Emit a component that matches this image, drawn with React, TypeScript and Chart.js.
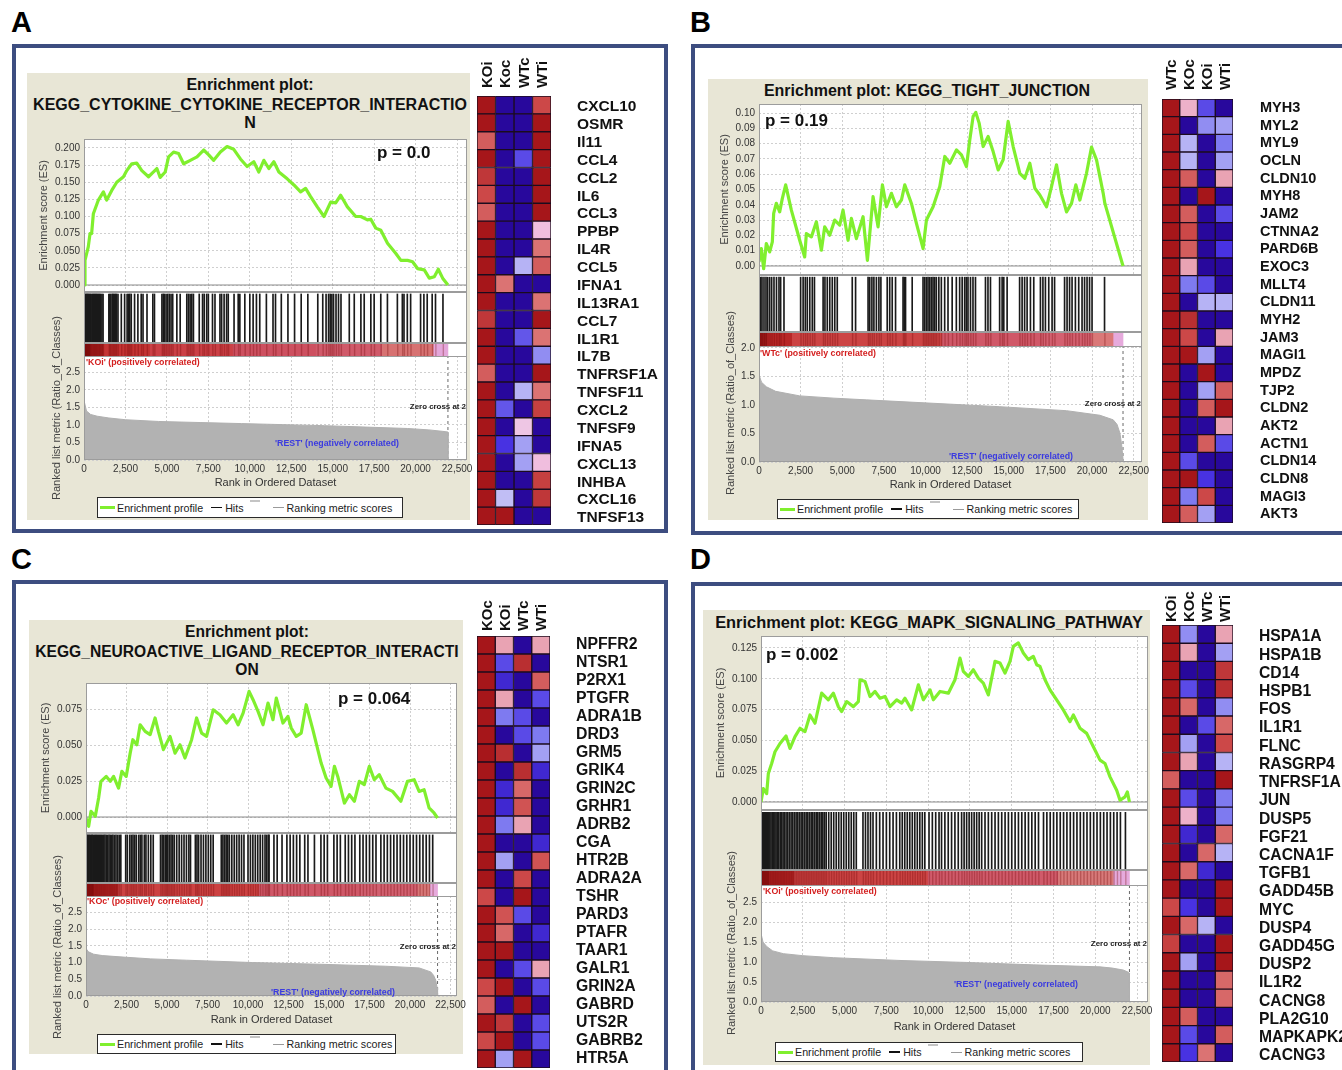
import React, { useEffect, useRef } from "react";
import { Chart, registerables } from "chart.js";

Chart.register(...registerables);
const FONT = "'Liberation Sans', Arial, Helvetica, sans-serif";
Chart.defaults.font.family = FONT;

// ===================== DATA =====================
const rankTicks = [0, 2500, 5000, 7500, 10000, 12500, 15000, 17500, 20000, 22500];

// ---- Panel A : KEGG_CYTOKINE_CYTOKINE_RECEPTOR_INTERACTION ----
const esTicksA = [0, 0.025, 0.05, 0.075, 0.1, 0.125, 0.15, 0.175, 0.2];
const metricTicksA = [0, 0.5, 1, 1.5, 2, 2.5];
const esRankA = [0,60,260,363,460,564,867,1170,1370,1673,1976,2380,2580,2883,3185,3488,3891,4193,4395,4596,4899,5100,5403,5705,6008,6411,6814,7217,7520,7822,8225,8628,9032,9435,9838,10241,10544,10846,11149,11451,11754,12257,12660,13063,13366,13668,14071,14474,14878,15180,15482,15886,16390,16692,17095,17297,17600,17902,18305,18809,19111,19515,19817,20119,20522,20825,21127,21369,21631,21950];
const esValA = [0,0.036,0.056,0.075,0.075,0.104,0.124,0.136,0.124,0.138,0.150,0.158,0.167,0.177,0.178,0.167,0.158,0.165,0.170,0.157,0.165,0.187,0.194,0.192,0.177,0.182,0.187,0.197,0.190,0.182,0.194,0.202,0.198,0.184,0.173,0.180,0.165,0.182,0.170,0.180,0.165,0.155,0.146,0.136,0.141,0.129,0.114,0.100,0.121,0.120,0.131,0.114,0.100,0.100,0.095,0.096,0.083,0.080,0.061,0.046,0.036,0.036,0.034,0.024,0.022,0.010,0.012,0.023,0.010,0];
const hitsA = [10,60,110,160,210,260,320,380,430,500,560,620,680,740,800,870,930,1000,1080,1150,1500,1560,1620,1700,1760,1830,1900,1960,2050,2250,2450,2600,2680,2760,2850,3050,3250,3450,3560,3800,4150,4250,4700,4780,4850,4950,5050,5150,5250,5350,5600,5800,6200,6300,6400,6500,6600,6950,7150,7250,7400,7500,7750,7900,8200,8300,8450,8600,8700,9050,9300,9400,9700,10000,10200,10400,10600,11000,11400,11550,11900,12300,12700,13100,13500,14100,14400,14600,14750,14850,14950,15050,15200,15350,15500,16000,16300,16700,16900,17300,17500,17900,18300,18900,19200,19300,19500,19700,20300,20500,20700,21000,21200,21650];
const metricRankA = [0,150,400,800,1500,2500,4500,7000,9500,12000,14500,17000,19500,20800,21600,21950,21952];
const metricValA = [1.7,1.4,1.3,1.25,1.2,1.15,1.1,1.07,1.04,1.01,0.98,0.94,0.9,0.86,0.82,0.8,0];
const barStopsA = [0,400,1200,4000,9000,14000,18000,21100,21950];
const barColorsA = ["#8c1616","#b02424","#c43434","#cb4046","#cd5060","#d05a6a","#d77272","#e4a6da"];
const genesA = ["CXCL10","OSMR","Il11","CCL4","CCL2","IL6","CCL3","PPBP","IL4R","CCL5","IFNA1","IL13RA1","CCL7","IL1R1","IL7B","TNFRSF1A","TNFSF11","CXCL2","TNFSF9","IFNA5","CXCL13","INHBA","CXCL16","TNFSF13"];
const samplesA = ["KOi","Koc","WTc","WTi"];
const heatA = [
  [1,-1,-1,0.7],[1,-1,-1,1],[0.6,-1,-1,1],[1,-1,-0.5,1],[0.8,-1,-1,1],[0.7,-1,-1,1],
  [0.6,-1,-1,1],[1,-1,-1,0.2],[1,-1,-1,0.5],[1,-1,-0.15,0.6],[1,0.5,-1,-1],[1,-1,-1,0.5],
  [0.8,-1,-1,1],[1,-1,-0.45,0.5],[1,-1,-1,-0.25],[0.6,-1,-1,1],[1,-1,-0.15,0.5],[1,-0.45,-1,0.75],
  [1,-1,0.15,-1],[1,-0.6,-0.2,-1],[1,-1,-0.2,0.2],[1,-1,-1,0.75],[1,-0.12,-1,0.8],[1,1,-1,-1],
];

// ---- Panel B : KEGG_TIGHT_JUNCTION ----
const esTicksB = [0, 0.01, 0.02, 0.03, 0.04, 0.05, 0.06, 0.07, 0.08, 0.09, 0.1];
const metricTicksB = [0, 0.5, 1, 1.5, 2];
const esRankB = [0,140,280,440,641,801,881,1042,1242,1402,1602,1943,2444,2744,2844,3145,3445,3746,3946,4246,4547,4847,5048,5348,5548,5849,6249,6510,6850,7150,7411,7651,7952,8252,8553,8753,9153,9454,9854,10055,10455,10856,11157,11457,11858,12158,12458,12659,12859,13019,13220,13460,13761,14061,14362,14662,14962,15263,15664,15964,16264,16565,16865,17266,17566,17866,18166,18467,18767,19027,19268,19668,19969,20269,20670,20770,21860];
const esValB = [0.0026,0.0114,-0.0018,0.0147,0.0092,0.0158,0.0344,0.041,0.0354,0.0442,0.053,0.0365,0.0168,0.0059,0.0212,0.019,0.0289,0.0103,0.0256,0.0201,0.030,0.0267,0.0365,0.0168,0.0311,0.0179,0.0322,0.0037,0.0453,0.0256,0.053,0.0387,0.0475,0.0387,0.0431,0.053,0.0409,0.0278,0.0114,0.030,0.0387,0.0519,0.0716,0.0672,0.0759,0.0726,0.065,0.0825,0.0978,0.1004,0.0934,0.0781,0.0847,0.0748,0.0628,0.0694,0.0945,0.0781,0.0606,0.0573,0.0672,0.0508,0.0464,0.0387,0.0519,0.0661,0.0475,0.0354,0.0409,0.053,0.0431,0.0606,0.0777,0.0694,0.0475,0.0409,0];
const hitsB = [20,100,180,300,420,520,640,760,900,1050,1200,1300,1500,2500,2650,2780,2900,3050,3200,3330,3850,3960,4100,4250,4400,4550,4700,5600,5800,6550,6650,6780,6900,7050,7200,7320,7700,7850,8000,8200,8650,8720,8800,9200,9850,9950,10050,10150,10250,10350,10450,10550,10650,10800,10950,11150,11350,11600,11850,12050,12200,12350,12450,12550,12700,12850,13000,13600,13750,13900,14450,14600,14700,14900,15650,15800,15950,16100,16300,16500,16900,17050,17200,17400,17600,17750,18350,18500,18650,18800,19000,19200,19400,19550,19700,19850,20000,20750];
const metricRankB = [0,150,440,1000,2444,4500,6450,10455,14460,18467,20470,21270,21500,21670,21780,21860,21862];
const metricValB = [1.53,1.4,1.32,1.24,1.16,1.12,1.09,1.03,0.97,0.9,0.82,0.74,0.66,0.51,0.3,0.05,0];
const barStopsB = [0,500,2000,11000,17000,20000,21300,21860];
const barColorsB = ["#9a1a1a","#b82828","#cc4444","#d05868","#d46070","#da7878","#e6aadc"];
const genesB = ["MYH3","MYL2","MYL9","OCLN","CLDN10","MYH8","JAM2","CTNNA2","PARD6B","EXOC3","MLLT4","CLDN11","MYH2","JAM3","MAGI1","MPDZ","TJP2","CLDN2","AKT2","ACTN1","CLDN14","CLDN8","MAGI3","AKT3"];
const samplesB = ["WTc","KOc","KOi","WTi"];
const heatB = [
  [1,0.25,-0.5,-1],[1,-1,-0.25,-0.2],[1,-0.15,-1,-0.3],[1,-0.15,-1,-0.2],[1,0.6,-1,0.3],[1,-1,1,-1],
  [1,0.6,-1,-0.5],[1,0.7,-1,-1],[1,0.6,-1,-0.6],[1,0.3,-1,-1],[1,-0.3,-0.5,-1],[1,-1,-0.15,-0.15],
  [1,0.85,-1,-1],[1,0.7,-1,0.3],[1,1,-0.2,-1],[1,-1,1,-1],[1,-1,-0.2,0.6],[1,-1,0.6,1],
  [1,-1,-1,0.3],[1,-1,0.6,-0.5],[1,-0.5,-1,-1],[1,1,-0.6,-1],[1,-0.3,0.7,-1],[1,0.6,-0.2,-1],
];

// ---- Panel C : KEGG_NEUROACTIVE_LIGAND_RECEPTOR_INTERACTION ----
const esTicksC = [0, 0.025, 0.05, 0.075];
const metricTicksC = [0, 0.5, 1, 1.5, 2, 2.5];
const esRankC = [0,164,308,574,779,923,1250,1497,1702,2009,2214,2481,2727,2891,3137,3342,3650,3957,4264,4469,4777,5187,5494,5802,6109,6519,6827,7134,7442,7852,8262,8672,9082,9389,9697,10066,10312,10619,10927,11234,11542,11747,12157,12464,12669,12977,13284,13592,14002,14514,14822,15129,15334,15539,15949,16257,16564,16872,17179,17487,17794,18102,18512,18922,19434,19844,20254,20562,20869,21177,21484,21700];
const esValC = [-0.0007,-0.0065,0.0039,0.0005,0.0132,0.0248,0.0282,0.0248,0.0282,0.0201,0.0317,0.0282,0.0444,0.0537,0.0502,0.0641,0.0595,0.0572,0.0688,0.0595,0.0468,0.0560,0.0444,0.0502,0.041,0.0537,0.0688,0.0583,0.056,0.0745,0.0711,0.0653,0.0711,0.0641,0.0722,0.0873,0.0815,0.0734,0.0641,0.0792,0.0676,0.0826,0.0653,0.0699,0.0618,0.056,0.0583,0.078,0.0607,0.0375,0.0271,0.0213,0.0352,0.0282,0.0097,0.0155,0.0109,0.0248,0.0225,0.0352,0.0259,0.0294,0.0201,0.0178,0.0109,0.0248,0.0259,0.0178,0.019,0.0063,0.0028,-0.0007];
const hitsC = [0,40,90,150,200,260,330,380,450,520,580,640,700,770,830,900,960,1030,1100,1170,1250,1330,1420,1500,1580,1660,1750,1850,1950,2050,2150,2450,2550,2700,2800,2900,3000,3100,3250,3350,3450,3600,3700,3850,4000,4150,4600,4700,4800,4900,4980,5050,5150,5250,5350,5450,5600,5750,5900,6050,6200,6350,6450,6750,6850,6950,7100,7250,7400,7550,7700,7850,8350,8450,8550,8650,8750,8850,9000,9150,9300,9450,9600,9750,10000,10150,10300,10450,10600,10750,10900,11050,11150,11250,11300,11600,11800,12100,12400,12600,12800,13000,13200,13500,13700,14100,14500,14700,14900,15300,15500,15700,16000,16200,16400,16600,16900,17100,17300,17500,17700,17900,18200,18400,18600,18800,19000,19200,19400,19600,19800,20000,20200,20400,20600,20800,21000,21200,21400];
const metricRankC = [0,150,470,1000,2100,4000,6200,10300,14400,18500,20560,21280,21450,21590,21670,21700,21702];
const metricValC = [1.42,1.32,1.25,1.21,1.17,1.11,1.07,1.0,0.95,0.89,0.84,0.72,0.62,0.47,0.25,0.05,0];
const barStopsC = [0,500,2000,10700,17000,20500,21250,21700];
const barColorsC = ["#961818","#b42626","#cc4242","#cf5868","#d26070","#d87878","#e6aadc"];
const genesC = ["NPFFR2","NTSR1","P2RX1","PTGFR","ADRA1B","DRD3","GRM5","GRIK4","GRIN2C","GRHR1","ADRB2","CGA","HTR2B","ADRA2A","TSHR","PARD3","PTAFR","TAAR1","GALR1","GRIN2A","GABRD","UTS2R","GABRB2","HTR5A"];
const samplesC = ["KOc","KOi","WTc","WTi"];
const heatC = [
  [1,0.3,-1,0.3],[1,-0.5,0.85,-1],[1,-0.7,-1,0.6],[1,0.3,-1,-0.5],[1,-0.3,-0.5,-1],[1,-1,-0.5,-0.3],
  [1,0.85,-1,-0.2],[1,-1,0.85,-0.7],[1,-0.7,0.55,-1],[1,-0.7,0.65,-1],[1,-0.3,0.3,-1],[1,-1,-1,-0.7],
  [1,-0.2,-1,0.65],[1,-1,0.7,-1],[0.7,-1,1,-1],[1,0.65,-0.5,-1],[1,0.55,-1,-0.7],[1,1,-1,-1],
  [1,-1,-0.5,0.3],[0.7,1,-1,-0.5],[0.6,-1,1,-1],[1,0.8,-1,-0.5],[0.7,1,-1,-0.5],[1,-0.2,1,-1],
];

// ---- Panel D : KEGG_MAPK_SIGNALING_PATHWAY ----
const esTicksD = [0, 0.025, 0.05, 0.075, 0.1, 0.125];
const metricTicksD = [0, 0.5, 1, 1.5, 2, 2.5];
const esRankD = [0,140,339,439,638,837,1137,1496,1735,2034,2333,2632,2931,3230,3629,4028,4327,4626,4826,5125,5524,5823,5922,6221,6520,6820,7119,7418,7717,8116,8415,8614,9013,9412,9711,10110,10309,10708,11206,11605,11904,12103,12402,12702,13001,13300,13599,13998,14297,14596,14895,15095,15394,15693,15992,16291,16490,16690,16989,17288,17687,18086,18485,18685,19083,19482,19881,20280,20579,20878,21276,21476,21775,21914,22040];
const esValD = [0,0.0109,0.0068,0.0231,0.0312,0.0408,0.0475,0.0535,0.0435,0.0530,0.0598,0.0571,0.0706,0.0639,0.0883,0.0829,0.0883,0.0774,0.0734,0.0815,0.0774,0.0815,0.0992,0.0978,0.0856,0.0897,0.0842,0.0856,0.0774,0.0829,0.0802,0.0842,0.0747,0.0951,0.0829,0.0910,0.0829,0.0897,0.0883,0.0992,0.1168,0.1060,0.1019,0.1073,0.1005,0.0965,0.0869,0.1141,0.1128,0.1046,0.1141,0.1263,0.1291,0.1209,0.1155,0.1182,0.1114,0.1100,0.0992,0.0910,0.0829,0.0747,0.0652,0.0706,0.0598,0.0557,0.0448,0.0340,0.0312,0.0204,0.0095,0.0014,0.0041,0.0082,0];
const hitsD = [0,50,100,160,220,280,340,400,460,530,600,680,750,830,900,980,1060,1150,1230,1320,1400,1500,1600,1700,1800,1900,2000,2100,2200,2300,2400,2500,2600,2700,2800,2900,3000,3100,3200,3300,3400,3500,3600,3700,3800,3900,4050,4200,4350,4500,4650,4800,4950,5100,5250,5400,5550,5700,6100,6250,6400,6550,6700,6900,7100,7300,7500,7700,7900,8100,8300,8450,8600,8750,8900,9050,9200,9350,9500,9650,9800,10050,10250,10450,10650,10800,11000,11200,11400,11600,11800,12000,12150,12300,12450,12600,12750,12900,13050,13200,13400,13600,13800,14000,14200,14400,14600,14800,15000,15200,15400,15600,15800,16000,16200,16400,16600,16900,17100,17300,17500,17700,17900,18100,18300,18500,18700,18900,19100,19300,19500,19700,19900,20100,20300,20500,20700,20900,21100,21300,21500,21800];
const metricRankD = [0,120,340,700,1336,2500,4327,8315,12303,16290,20280,21000,21675,22000,22040,22042];
const metricValD = [1.72,1.5,1.39,1.28,1.21,1.16,1.11,1.04,0.99,0.93,0.88,0.85,0.8,0.74,0.72,0];
const barStopsD = [0,500,2000,10000,17800,21100,22040];
const barColorsD = ["#961818","#b42626","#cc4444","#d05a6a","#d87a7a","#e6aadc"];
const genesD = ["HSPA1A","HSPA1B","CD14","HSPB1","FOS","IL1R1","FLNC","RASGRP4","TNFRSF1A","JUN","DUSP5","FGF21","CACNA1F","TGFB1","GADD45B","MYC","DUSP4","GADD45G","DUSP2","IL1R2","CACNG8","PLA2G10","MAPKAPK2","CACNG3"];
const samplesD = ["KOi","KOc","WTc","WTi"];
const heatD = [
  [1,-0.25,-1,0.3],[1,0.3,-1,-0.2],[1,-1,-1,0.8],[1,-0.5,-1,0.85],[1,0.55,-1,-0.25],[1,-1,-0.5,0.55],
  [1,-0.2,-1,0.7],[1,0.3,-1,-0.15],[0.6,-1,-1,1],[1,-0.5,-1,-0.3],[1,0.25,-1,-0.3],[1,-0.7,-1,0.55],
  [1,-1,0.55,-0.15],[1,0.55,-0.7,-1],[1,-1,-1,1],[0.7,-0.6,-1,1],[1,0.55,-0.15,-1],[0.75,-1,-1,1],
  [1,-0.2,-1,1],[1,-1,-1,0.55],[1,-1,-1,0.55],[1,0.6,-1,-1],[1,-0.5,-1,0.6],[1,-0.6,0.5,-1],
];

// ===================== STYLE HELPERS =====================
const GREEN = "#80ef2e";
const GRID = "#cfcfcf";
const HEAT_STOPS: [number, number[]][] = [
  [-1, [40, 8, 156]],
  [-0.6, [72, 50, 226]],
  [-0.3, [126, 122, 240]],
  [-0.1, [200, 198, 246]],
  [0, [232, 222, 244]],
  [0.2, [240, 190, 222]],
  [0.4, [226, 136, 136]],
  [0.7, [204, 72, 72]],
  [1, [166, 22, 26]],
];
function heatColor(v: number): string {
  const s = HEAT_STOPS;
  const f = (c: number[]) => `rgb(${c[0]},${c[1]},${c[2]})`;
  if (v <= s[0][0]) return f(s[0][1]);
  for (let i = 1; i < s.length; i++) {
    if (v <= s[i][0]) {
      const t = (v - s[i - 1][0]) / (s[i][0] - s[i - 1][0]);
      const a = s[i - 1][1], b = s[i][1];
      return f([0, 1, 2].map((k) => Math.round(a[k] + (b[k] - a[k]) * t)));
    }
  }
  return f(s[s.length - 1][1]);
}

const framePlugin = {
  id: "frame",
  beforeDraw(chart: any, _a: any, opts: any) {
    if (!opts || !opts.fill) return;
    const { ctx, chartArea: a } = chart;
    ctx.save();
    ctx.fillStyle = opts.fill;
    ctx.fillRect(a.left, a.top, a.right - a.left, a.bottom - a.top);
    ctx.restore();
  },
  afterDraw(chart: any, _a: any, opts: any) {
    if (!opts || !opts.stroke) return;
    const { ctx, chartArea: a } = chart;
    ctx.save();
    ctx.strokeStyle = opts.stroke;
    ctx.lineWidth = 1;
    ctx.strokeRect(Math.round(a.left) + 0.5, Math.round(a.top) + 0.5, Math.round(a.right - a.left) - 1, Math.round(a.bottom - a.top) - 1);
    ctx.restore();
  },
};

const baseOpts = { responsive: false, animation: false, events: [] };
const setTicks = (vals: number[]) => (sc: any) => {
  sc.ticks = vals.filter((v) => v >= sc.min - 1e-9 && v <= sc.max + 1e-9).map((v) => ({ value: v }));
};

function CanvasChart({ x, y, w, h, make }: { x: number; y: number; w: number; h: number; make: () => any }) {
  const ref = useRef<HTMLCanvasElement | null>(null);
  useEffect(() => {
    const c = new Chart(ref.current as HTMLCanvasElement, make());
    return () => c.destroy();
  }, []);
  return <canvas ref={ref} width={w} height={h} style={{ position: "absolute", left: x, top: y, width: w, height: h }} />;
}

function T({ x, y, size, bold, color, align, children, ls }: any) {
  const st: any = {
    position: "absolute", top: y - size / 2, lineHeight: size + "px", fontSize: size,
    fontWeight: bold ? "bold" : "normal", color: color || "#111", whiteSpace: "nowrap", fontFamily: FONT, letterSpacing: ls || 0,
  };
  if (align === "center") { st.left = x; st.transform = "translateX(-50%)"; }
  else if (align === "right") { st.right = 1342 - x; }
  else st.left = x;
  return <div style={st}>{children}</div>;
}

// vertical text reading bottom-to-top, centred at (cx, cy)
function VT({ cx, cy, size, bold, color, children, len }: any) {
  const L = len || 260;
  return (
    <div style={{ position: "absolute", left: cx - size / 2, top: cy - L / 2, width: size, height: L, writingMode: "vertical-rl", transform: "rotate(180deg)", textAlign: "center", lineHeight: size + "px", fontSize: size, fontWeight: bold ? "bold" : "normal", color: color || "#333", whiteSpace: "nowrap", fontFamily: FONT }}>
      {children}
    </div>
  );
}
// vertical text whose start (bottom) sits at y=bottom, centred on cx
function VTB({ cx, bottom, size, children }: any) {
  const L = 60;
  return (
    <div style={{ position: "absolute", left: cx - size / 2, top: bottom - L, width: size, height: L, writingMode: "vertical-rl", transform: "rotate(180deg)", lineHeight: size + "px", fontSize: size, fontWeight: "bold", color: "#111", whiteSpace: "nowrap", fontFamily: FONT }}>
      {children}
    </div>
  );
}

// ===================== PANEL SPECS =====================
type Spec = any;
const PAD = 10;
const PR = 14;

const specs: Spec[] = [
  {
    key: "A", beige: [27, 73, 443, 447],
    title: ["Enrichment plot:", "KEGG_CYTOKINE_CYTOKINE_RECEPTOR_INTERACTIO", "N"], titleYs: [85, 105, 123], titleCx: 250, titleSize: 16,
    p: "p = 0.0", pX: 377, pY: 152,
    plotL: 84, plotR: 467, esTop: 139, esBot: 292, esMin: -0.0102, esMax: 0.2131, esTicks: esTicksA, esDec: 3, esTitleCx: 44,
    hitsBot: 343, barBot: 356, rkBot: 460, rkMax: 2.97, mTicks: metricTicksA, rkTitleCx: 56, rkTitleCy: 408, xAxisH: 34, xMax: 23100, zc: 21950,
    esX: esRankA, esY: esValA, hits: hitsA, mX: metricRankA, mY: metricValA, barStops: barStopsA, barColors: barColorsA,
    posText: "'KOi' (positively correlated)", posX: 86, posY: 362, zeroY: 407, restX: 275, restY: 443,
    legend: [97, 497, 306, 21],
  },
  {
    key: "B", beige: [708, 79, 440, 441],
    title: ["Enrichment plot: KEGG_TIGHT_JUNCTION"], titleYs: [91], titleCx: 927, titleSize: 16,
    p: "p = 0.19", pX: 765, pY: 120,
    plotL: 759, plotR: 1142, esTop: 104, esBot: 275, esMin: -0.0059, esMax: 0.1059, esTicks: esTicksB, esDec: 2, esTitleCx: 725,
    hitsBot: 332, barBot: 346, rkBot: 462, rkMax: 2.035, mTicks: metricTicksB, rkTitleCx: 730, rkTitleCy: 403, xAxisH: 34, xMax: 23000, zc: 21860,
    esX: esRankB, esY: esValB, hits: hitsB, mX: metricRankB, mY: metricValB, barStops: barStopsB, barColors: barColorsB,
    posText: "'WTc' (positively correlated)", posX: 760, posY: 353, zeroY: 404, restX: 949, restY: 456,
    legend: [777, 499, 302, 20],
  },
  {
    key: "C", beige: [29, 620, 434, 434],
    title: ["Enrichment plot:", "KEGG_NEUROACTIVE_LIGAND_RECEPTOR_INTERACTI", "ON"], titleYs: [632, 652, 670], titleCx: 247, titleSize: 15.6,
    p: "p = 0.064", pX: 338, pY: 698,
    plotL: 86, plotR: 457, esTop: 683, esBot: 833, esMin: -0.0111, esMax: 0.0931, esTicks: esTicksC, esDec: 3, esTitleCx: 46,
    hitsBot: 883, barBot: 896, rkBot: 996, rkMax: 2.99, mTicks: metricTicksC, rkTitleCx: 57, rkTitleCy: 947, xAxisH: 35, xMax: 22900, zc: 21700,
    esX: esRankC, esY: esValC, hits: hitsC, mX: metricRankC, mY: metricValC, barStops: barStopsC, barColors: barColorsC,
    posText: "'KOc' (positively correlated)", posX: 87, posY: 901, zeroY: 947, restX: 271, restY: 992,
    legend: [97, 1034, 299, 20],
  },
  {
    key: "D", beige: [703, 610, 447, 455],
    title: ["Enrichment plot: KEGG_MAPK_SIGNALING_PATHWAY"], titleYs: [622], titleCx: 929, titleSize: 16.4,
    p: "p = 0.002", pX: 766, pY: 654,
    plotL: 761, plotR: 1148, esTop: 636, esBot: 810, esMin: -0.0065, esMax: 0.1347, esTicks: esTicksD, esDec: 3, esTitleCx: 721,
    hitsBot: 870, barBot: 885, rkBot: 1002, rkMax: 2.93, mTicks: metricTicksD, rkTitleCx: 731, rkTitleCy: 943, xAxisH: 36, xMax: 23150, zc: 22040,
    esX: esRankD, esY: esValD, hits: hitsD, mX: metricRankD, mY: metricValD, barStops: barStopsD, barColors: barColorsD,
    posText: "'KOi' (positively correlated)", posX: 763, posY: 891, zeroY: 944, restX: 954, restY: 984,
    legend: [775, 1042, 308, 20],
  },
];

const heatSpecs: any[] = [
  { key: "hA", genes: genesA, samples: samplesA, vals: heatA, cellsL: 477, cellsR: 551, cellsT: 96, cellsB: 525, gap: 18, geneSize: 15.5, sampleSize: 15, sampleBottom: 88, canvasR: 664, labelOffset: 2 },
  { key: "hB", genes: genesB, samples: samplesB, vals: heatB, cellsL: 1162, cellsR: 1233, cellsT: 99, cellsB: 523, gap: 19, geneSize: 14.5, sampleSize: 15, sampleBottom: 90, canvasR: 1342, labelOffset: 0 },
  { key: "hC", genes: genesC, samples: samplesC, vals: heatC, cellsL: 477, cellsR: 550, cellsT: 636, cellsB: 1068, gap: 18, geneSize: 15.8, sampleSize: 15, sampleBottom: 631, canvasR: 664, labelOffset: 0 },
  { key: "hD", genes: genesD, samples: samplesD, vals: heatD, cellsL: 1162, cellsR: 1233, cellsT: 625, cellsB: 1062, gap: 18, geneSize: 15.7, sampleSize: 15, sampleBottom: 622, canvasR: 1342, labelOffset: 3 },
];

// ===================== CHART CONFIGS =====================
function esConfig(s: Spec, axisW: number) {
  return {
    type: "line",
    data: {
      datasets: [
        { data: s.esX.map((x: number, i: number) => ({ x, y: s.esY[i] })), borderColor: GREEN, borderWidth: 3.2, pointRadius: 0, tension: 0, borderJoinStyle: "round" },
        { data: [{ x: 0, y: 0 }, { x: s.xMax, y: 0 }], borderColor: "#8a8a8a", borderWidth: 1, pointRadius: 0 },
      ],
    },
    options: {
      ...baseOpts,
      layout: { padding: { top: PAD, right: PR, bottom: PAD, left: 0 } },
      plugins: { legend: { display: false }, tooltip: { enabled: false }, frame: { fill: "#fff", stroke: "#9c9c9c" } },
      scales: {
        x: {
          type: "linear", min: 0, max: s.xMax,
          afterBuildTicks: setTicks(rankTicks),
          ticks: { display: false },
          grid: { color: GRID, drawTicks: false },
          border: { display: false, dash: [2, 2] },
          afterFit: (sc: any) => { sc.height = 0; },
        },
        y: {
          min: s.esMin, max: s.esMax,
          afterBuildTicks: setTicks(s.esTicks),
          ticks: { font: { size: 10 }, color: "#333", padding: 4, callback: (v: any) => Number(v).toFixed(s.esDec) },
          grid: { color: GRID, drawTicks: false },
          border: { display: false, dash: [2, 2] },
          title: { display: true, text: "Enrichment score (ES)", font: { size: 11 }, color: "#444", padding: { top: 4, bottom: 4 } },
          afterFit: (sc: any) => { sc.width = axisW; },
        },
      },
    },
    plugins: [framePlugin],
  };
}

function hitsConfig(s: Spec) {
  return {
    type: "bar",
    data: { datasets: [{ data: s.hits.map((h: number) => ({ x: h, y: 1 })), backgroundColor: "#1a1a1a", barThickness: 1, borderWidth: 0 }] },
    options: {
      ...baseOpts,
      layout: { padding: 0 },
      plugins: { legend: { display: false }, tooltip: { enabled: false }, frame: { fill: "#fff", stroke: "#9c9c9c" } },
      scales: {
        x: { type: "linear", min: 0, max: s.xMax, offset: false, display: false },
        y: { min: 0, max: 1.04, display: false },
      },
    },
    plugins: [framePlugin],
  };
}

function barConfig(s: Spec) {
  const segs = s.barColors.map((_c: string, i: number) => ({ x: [s.barStops[i], s.barStops[i + 1]], y: "r" }));
  return {
    type: "bar",
    data: {
      labels: ["r"],
      datasets: [
        { data: s.hits.map((h: number) => ({ x: [h, h + 45], y: "r" })), backgroundColor: "rgba(110,0,0,0.3)", barPercentage: 1, categoryPercentage: 1, grouped: false, borderWidth: 0 },
        { data: segs, backgroundColor: s.barColors, barPercentage: 1, categoryPercentage: 1, grouped: false, borderWidth: 0 },
      ],
    },
    options: {
      ...baseOpts,
      indexAxis: "y",
      layout: { padding: 0 },
      plugins: { legend: { display: false }, tooltip: { enabled: false }, frame: { fill: "#fff", stroke: "#9c9c9c" } },
      scales: {
        x: { type: "linear", min: 0, max: s.xMax, display: false },
        y: { type: "category", display: false },
      },
    },
    plugins: [framePlugin],
  };
}

function rankConfig(s: Spec, axisW: number) {
  return {
    type: "line",
    data: {
      datasets: [
        { data: s.mX.map((x: number, i: number) => ({ x, y: s.mY[i] })), borderColor: "#b0b0b0", backgroundColor: "#b2b2b2", fill: "origin", borderWidth: 1, pointRadius: 0, tension: 0 },
        { data: [{ x: s.zc, y: 0 }, { x: s.zc, y: s.rkMax }], borderColor: "#6a6a6a", borderDash: [3, 3], borderWidth: 1, pointRadius: 0 },
      ],
    },
    options: {
      ...baseOpts,
      layout: { padding: { top: PAD, right: PR, bottom: 0, left: 0 } },
      plugins: { legend: { display: false }, tooltip: { enabled: false }, frame: { fill: "#fff", stroke: "#9c9c9c" } },
      scales: {
        x: {
          type: "linear", min: 0, max: s.xMax,
          afterBuildTicks: setTicks(rankTicks),
          ticks: { font: { size: 10 }, color: "#333", padding: 3, maxRotation: 0, autoSkip: false, callback: (v: any) => Number(v).toLocaleString("en-US") },
          grid: { color: GRID, drawTicks: false },
          border: { display: false, dash: [2, 2] },
          title: { display: true, text: "Rank in Ordered Dataset", font: { size: 11 }, color: "#333", padding: { top: 4, bottom: 4 } },
          afterFit: (sc: any) => { sc.height = s.xAxisH; },
        },
        y: {
          min: 0, max: s.rkMax,
          afterBuildTicks: setTicks(s.mTicks),
          ticks: { font: { size: 10 }, color: "#333", padding: 4, callback: (v: any) => Number(v).toFixed(1) },
          grid: { color: GRID, drawTicks: false },
          border: { display: false, dash: [2, 2] },
          afterFit: (sc: any) => { sc.width = axisW; },
        },
      },
    },
    plugins: [framePlugin],
  };
}

// padding >= half label height + tick padding, so the cell area is exactly as specified
const HEAT_TOP = 34;
const HEAT_BOT = 34;
function heatConfig(h: any, yAxisW: number) {
  return {
    type: "bar",
    data: {
      labels: h.genes,
      datasets: h.samples.map((_s: string, c: number) => ({
        label: h.samples[c],
        data: h.genes.map(() => [c, c + 1]),
        backgroundColor: h.vals.map((row: number[]) => heatColor(row[c])),
        borderColor: "#1c0c1e",
        borderWidth: 1,
        borderSkipped: false,
        barPercentage: 1,
        categoryPercentage: 1,
        grouped: false,
      })),
    },
    options: {
      ...baseOpts,
      indexAxis: "y",
      layout: { padding: { left: 1, top: HEAT_TOP, right: 0, bottom: HEAT_BOT } },
      plugins: { legend: { display: false }, tooltip: { enabled: false } },
      scales: {
        x: { type: "linear", min: 0, max: 4, display: false },
        y: {
          type: "category", position: "right",
          ticks: { autoSkip: false, font: { size: h.geneSize, weight: "bold" }, color: "#111", padding: h.gap, labelOffset: h.labelOffset },
          grid: { display: false },
          border: { display: false },
          afterFit: (sc: any) => { sc.width = yAxisW; },
        },
      },
    },
  };
}

// ===================== COMPONENTS =====================
function Legend({ b }: { b: number[] }) {
  const [x, y, w, h] = b;
  const seg = (c: string, lw: number, th: number, ml: number, mr: number, extra?: any) => (
    <span style={{ display: "inline-block", width: lw, height: th, background: c, marginLeft: ml, marginRight: mr, flex: "none", ...(extra || {}) }} />
  );
  return (
    <div style={{ position: "absolute", left: x, top: y, width: w, height: h, boxSizing: "border-box", border: "1px solid #2a2a2a", background: "#fff", display: "flex", alignItems: "center", fontSize: 10.7, color: "#222", whiteSpace: "nowrap", fontFamily: FONT, overflow: "hidden" }}>
      {seg(GREEN, 15, 3, 2, 2)}
      <span>Enrichment profile</span>
      {seg("#111", 11, 1.5, 8, 3)}
      <span>Hits</span>
      {seg("#c4c4c4", 10, 2, 6, 0, { position: "relative", top: -7 })}
      {seg("#9a9a9a", 11, 1, 13, 3)}
      <span>Ranking metric scores</span>
    </div>
  );
}

function Gsea({ s }: { s: Spec }) {
  const esLeft = Math.round(s.esTitleCx - 10.6);
  const rkLeft = s.plotL - 40;
  const [bx, by, bw, bh] = s.beige;
  return (
    <>
      <div style={{ position: "absolute", left: bx, top: by, width: bw, height: bh, background: "#e8e6d6" }} />
      {s.title.map((t: string, i: number) => (
        <T key={i} x={s.titleCx} y={s.titleYs[i]} size={s.titleSize} bold align="center">{t}</T>
      ))}
      <CanvasChart x={esLeft} y={s.esTop - PAD} w={s.plotR - esLeft + PR} h={s.esBot - s.esTop + 2 * PAD} make={() => esConfig(s, s.plotL - esLeft)} />
      <CanvasChart x={s.plotL} y={s.esBot} w={s.plotR - s.plotL} h={s.hitsBot - s.esBot} make={() => hitsConfig(s)} />
      <CanvasChart x={s.plotL} y={s.hitsBot} w={s.plotR - s.plotL} h={s.barBot - s.hitsBot + 1} make={() => barConfig(s)} />
      <CanvasChart x={rkLeft} y={s.barBot - PAD} w={s.plotR - rkLeft + PR} h={PAD + (s.rkBot - s.barBot) + s.xAxisH} make={() => rankConfig(s, s.plotL - rkLeft)} />
      <VT cx={s.rkTitleCx} cy={s.rkTitleCy} size={11} color="#444">Ranked list metric (Ratio_of_Classes)</VT>
      <T x={s.pX} y={s.pY} size={17} bold>{s.p}</T>
      <T x={s.posX} y={s.posY} size={8.8} bold color="#d42020">{s.posText}</T>
      <T x={s.plotR - 1} y={s.zeroY} size={7.9} bold color="#222" align="right">Zero cross at 2</T>
      <T x={s.restX} y={s.restY} size={8.8} bold color="#3a3ae0">'REST' (negatively correlated)</T>
      <Legend b={s.legend} />
    </>
  );
}

function Heatmap({ h }: { h: any }) {
  const top = h.cellsT - HEAT_TOP;
  const left = h.cellsL - 1;
  const w = h.canvasR - left;
  const H = h.cellsB - h.cellsT + HEAT_TOP + HEAT_BOT;
  const yAxisW = w - 1 - (h.cellsR - h.cellsL);
  const colW = (h.cellsR - h.cellsL) / h.samples.length;
  return (
    <>
      <CanvasChart x={left} y={top} w={w} h={H} make={() => heatConfig(h, yAxisW)} />
      {h.samples.map((s: string, i: number) => (
        <VTB key={s} cx={h.cellsL + colW * (i + 0.5)} bottom={h.sampleBottom} size={h.sampleSize}>{s}</VTB>
      ))}
    </>
  );
}

const frames = [
  { k: "fA", l: 12, t: 44, w: 656, h: 489 },
  { k: "fB", l: 691, t: 44, w: 660, h: 491 },
  { k: "fC", l: 12, t: 580, w: 656, h: 494 },
  { k: "fD", l: 691, t: 582, w: 660, h: 492 },
];
const letters = [
  { t: "A", x: 11, y: 8 },
  { t: "B", x: 690, y: 8 },
  { t: "C", x: 11, y: 545 },
  { t: "D", x: 690, y: 545 },
];

export default function App() {
  return (
    <div style={{ position: "fixed", left: 0, top: 0, width: 1342, height: 1070, background: "#fff", overflow: "hidden", fontFamily: FONT }}>
      {frames.map((f) => (
        <div key={f.k} style={{ position: "absolute", left: f.l, top: f.t, width: f.w, height: f.h, boxSizing: "border-box", border: "4px solid #3d4d80" }} />
      ))}
      {letters.map((l) => (
        <div key={l.t} style={{ position: "absolute", left: l.x, top: l.y, fontSize: 29, lineHeight: "29px", fontWeight: "bold", color: "#000", fontFamily: FONT }}>{l.t}</div>
      ))}
      {specs.map((s) => (
        <Gsea key={s.key} s={s} />
      ))}
      {heatSpecs.map((h) => (
        <Heatmap key={h.key} h={h} />
      ))}
    </div>
  );
}
